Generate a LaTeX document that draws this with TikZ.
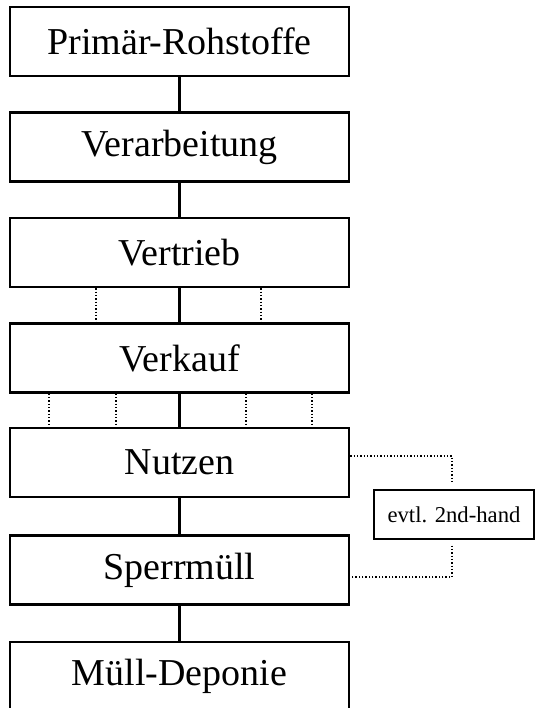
\documentclass[tikz,border=0pt]{standalone}
\usepackage{fontspec}
\setmainfont{Liberation Serif}
\begin{document}
\begin{tikzpicture}[x=0.75pt,y=-0.75pt,
  stage/.style={draw, line width=1.8pt, minimum width=339*0.75pt, minimum height=69*0.75pt,
    inner sep=0pt, font=\fontsize{28.5}{31}\selectfont},
  side/.style={draw, line width=1.8pt, minimum width=160*0.75pt, minimum height=49*0.75pt,
    inner sep=0pt, font=\fontsize{17}{19}\selectfont},
  link/.style={line width=1.6pt},
  dots/.style={line width=1pt, dash pattern=on 1pt off 1.5pt}]
\useasboundingbox (0,0) rectangle (535,708);
\clip (0,0) rectangle (535,708);
\fill[white] (0,0) rectangle (535,708);
\node[stage] (p) at (179.5,41.5) {Primär-Rohstoffe};
\node[stage] (va) at (179.5,147) {Verarbeitung};
\node[stage] (vt) at (179.5,252.5) {Vertrieb};
\node[stage] (vk) at (179.5,358) {Verkauf};
\node[stage] (nu) at (179.5,462.5) {Nutzen};
\node[stage] (sp) at (179.5,570) {Sperrmüll};
\node[stage] (md) at (179.5,676.5) {Müll-Deponie};
\node[side] (sh) at (454,514.5) {evtl. 2nd-hand};
\draw[link] (p) -- (va);
\draw[link] (va) -- (vt);
\draw[link] (vt) -- (vk);
\draw[link] (vk) -- (nu);
\draw[link] (nu) -- (sp);
\draw[link] (sp) -- (md);
\coordinate (a1) at (96,0);
\coordinate (a2) at (261,0);
\coordinate (b1) at (49,0);
\coordinate (b2) at (116,0);
\coordinate (b3) at (246,0);
\coordinate (b4) at (312,0);
\foreach \c in {a1,a2} \draw[dots] (vt.south -| \c) -- (vk.north -| \c);
\foreach \c in {b1,b2,b3,b4} \draw[dots] (vk.south -| \c) -- (nu.north -| \c);
\coordinate (u) at (452,456);
\coordinate (l) at (452,577);
\draw[dots] (nu.east |- u) -- (u) -- ([yshift=4pt]sh.north -| u);
\draw[dots] ([yshift=-4pt]sh.south -| l) -- (l) -- (sp.east |- l);
\end{tikzpicture}
\end{document}
